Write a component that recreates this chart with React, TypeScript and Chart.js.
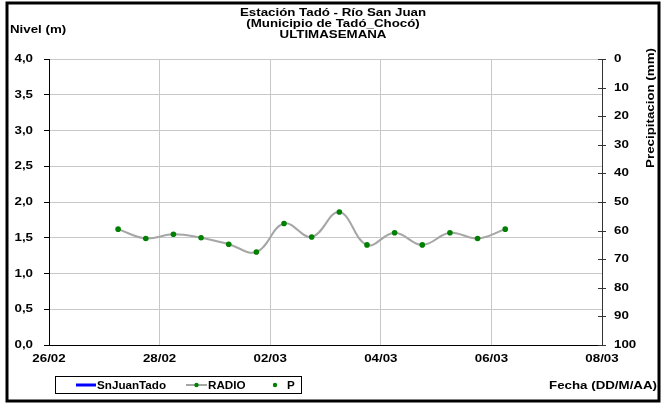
import React, { useEffect, useRef } from "react";
import { Chart, registerables } from "chart.js";

Chart.register(...registerables);

// ---- data ----
const titleLines = ["Estación Tadó - Río San Juan", "(Municipio de Tadó_Chocó)", "ULTIMASEMANA"];
const xTickDates = ["2025-02-26", "2025-02-28", "2025-03-02", "2025-03-04", "2025-03-06", "2025-03-08"];
const radioTimes = [
  "2025-02-27T06:00", "2025-02-27T18:00",
  "2025-02-28T06:00", "2025-02-28T18:00",
  "2025-03-01T06:00", "2025-03-01T18:00",
  "2025-03-02T06:00", "2025-03-02T18:00",
  "2025-03-03T06:00", "2025-03-03T18:00",
  "2025-03-04T06:00", "2025-03-04T18:00",
  "2025-03-05T06:00", "2025-03-05T18:00",
  "2025-03-06T06:00",
];
const radioValues = [1.62, 1.49, 1.55, 1.50, 1.41, 1.30, 1.70, 1.51, 1.86, 1.40, 1.57, 1.40, 1.57, 1.49, 1.62];
const snJuanValues: number[] = [];
const pValues: number[] = [];
const levelMin = 0, levelMax = 4, levelStep = 0.5;
const precMin = 0, precMax = 100, precStep = 10;

const toMs = (s: string) => Date.parse(s.length === 10 ? s + "T00:00:00Z" : s + ":00Z");
const FONT = "'Liberation Sans', Arial, Helvetica, sans-serif";
const pad2 = (n: number) => (n < 10 ? "0" + n : "" + n);
const fmtDate = (v: number) => {
  const d = new Date(v);
  return pad2(d.getUTCDate()) + "/" + pad2(d.getUTCMonth() + 1);
};
const fmtLevel = (v: number) => v.toFixed(1).replace(".", ",");

const SX = 1.21; // horizontal stretch of the original text

function txt(ctx: CanvasRenderingContext2D, s: string, x: number, y: number, align: CanvasTextAlign, sx = SX) {
  ctx.save();
  ctx.translate(x, y);
  ctx.scale(sx, 1);
  ctx.textAlign = align;
  ctx.textBaseline = "middle";
  ctx.fillText(s, 0, 0);
  ctx.restore();
}

const decorPlugin = {
  id: "decor",
  afterDraw(chart: any) {
    const ctx = chart.ctx as CanvasRenderingContext2D;
    const area = chart.chartArea;
    const { x, y, y2 } = chart.scales;
    ctx.save();
    // crossing ticks on right axis
    ctx.strokeStyle = "#333";
    ctx.lineWidth = 1;
    y2.ticks.forEach((t: any) => {
      const py = Math.round(y2.getPixelForValue(t.value)) + 0.5;
      ctx.beginPath();
      ctx.moveTo(area.right - 4, py);
      ctx.lineTo(area.right + 4, py);
      ctx.stroke();
    });
    // outer border
    ctx.strokeStyle = "#000";
    ctx.lineWidth = 3;
    ctx.strokeRect(7, 3, 652, 398);

    ctx.fillStyle = "#000";
    ctx.font = "bold 11px " + FONT;
    // tick labels
    y.ticks.forEach((t: any) => txt(ctx, fmtLevel(t.value), area.left - 16, y.getPixelForValue(t.value), "right"));
    y2.ticks.forEach((t: any) => txt(ctx, String(t.value), area.right + 12, y2.getPixelForValue(t.value), "left"));
    x.ticks.forEach((t: any) => txt(ctx, fmtDate(t.value), x.getPixelForValue(t.value), area.bottom + 14, "center"));

    // titles
    titleLines.forEach((l, i) => txt(ctx, l, 333, 13 + i * 11, "center"));
    txt(ctx, "Nivel (m)", 10, 30, "left");
    txt(ctx, "Fecha (DD/M/AA)", 657, 386, "right");
    ctx.save();
    ctx.translate(651, 108);
    ctx.rotate(-Math.PI / 2);
    txt(ctx, "Precipitacion (mm)", 0, 0, "center");
    ctx.restore();

    // legend
    ctx.lineWidth = 1;
    ctx.strokeStyle = "#000";
    ctx.strokeRect(55.5, 376.5, 246, 17);
    const ly = 385;
    ctx.strokeStyle = "#0000ff";
    ctx.lineWidth = 3;
    ctx.beginPath(); ctx.moveTo(76, ly); ctx.lineTo(96, ly); ctx.stroke();
    ctx.strokeStyle = "#a6a6a6";
    ctx.lineWidth = 2;
    ctx.beginPath(); ctx.moveTo(186, ly); ctx.lineTo(207, ly); ctx.stroke();
    ctx.fillStyle = "#008000";
    ctx.beginPath(); ctx.arc(196.5, ly, 2.2, 0, Math.PI * 2); ctx.fill();
    ctx.beginPath(); ctx.arc(275, ly, 2.2, 0, Math.PI * 2); ctx.fill();
    ctx.fillStyle = "#000";
    const ds = chart.data.datasets;
    txt(ctx, ds[0].label, 97, ly + 0.5, "left", 1.06);
    txt(ctx, ds[1].label, 208, ly + 0.5, "left", 1.06);
    txt(ctx, ds[2].label, 287, ly + 0.5, "left", 1.06);
    ctx.restore();
  },
};

export default function App() {
  const ref = useRef<HTMLCanvasElement>(null);
  useEffect(() => {
    if (!ref.current) return;
    const tickVals = xTickDates.map(toMs);
    const chart = new Chart(ref.current, {
      type: "line",
      data: {
        datasets: [
          {
            label: "SnJuanTado",
            data: snJuanValues.map((v, i) => ({ x: toMs(radioTimes[i]), y: v })),
            borderColor: "#0000ff",
            borderWidth: 3,
            pointRadius: 0,
            yAxisID: "y",
          },
          {
            label: "RADIO",
            data: radioValues.map((v, i) => ({ x: toMs(radioTimes[i]), y: v })),
            borderColor: "#a6a6a6",
            borderWidth: 2,
            tension: 0.4,
            pointRadius: 2.8,
            pointBorderWidth: 0,
            pointBackgroundColor: "#008000",
            pointHoverRadius: 2.8,
            yAxisID: "y",
          },
          {
            label: "P",
            data: pValues.map((v, i) => ({ x: toMs(radioTimes[i]), y: v })),
            showLine: false,
            pointRadius: 2,
            pointBackgroundColor: "#008000",
            yAxisID: "y2",
          },
        ],
      },
      options: {
        animation: false,
        responsive: false,
        events: [],
        layout: { padding: { top: 59, left: 0, right: 0, bottom: 0 } },
        plugins: { legend: { display: false }, title: { display: false }, tooltip: { enabled: false } },
        scales: {
          x: {
            type: "linear",
            min: tickVals[0],
            max: tickVals[tickVals.length - 1],
            afterBuildTicks: (axis: any) => {
              axis.ticks = tickVals.map((v) => ({ value: v }));
            },
            afterFit: (axis: any) => {
              axis.height = 60;
            },
            grid: { color: "#c8c8c8", drawTicks: false },
            border: { color: "#000", width: 1 },
            ticks: { display: false, autoSkip: false },
          },
          y: {
            type: "linear",
            position: "left",
            min: levelMin,
            max: levelMax,
            afterFit: (axis: any) => {
              axis.width = 49;
            },
            grid: { color: "#c8c8c8", tickColor: "#000", tickLength: 5 },
            border: { color: "#000", width: 1 },
            ticks: { stepSize: levelStep, display: false },
          },
          y2: {
            type: "linear",
            position: "right",
            min: precMin,
            max: precMax,
            reverse: true,
            afterFit: (axis: any) => {
              axis.width = 59;
            },
            grid: { drawOnChartArea: false, drawTicks: false },
            border: { color: "#333", width: 1 },
            ticks: { stepSize: precStep, display: false },
          },
        },
      },
      plugins: [decorPlugin],
    });
    return () => chart.destroy();
  }, []);
  return (
    <div style={{ position: "absolute", left: 0, top: 0, width: 661, height: 405, background: "#fff" }}>
      <canvas ref={ref} width={661} height={405} />
    </div>
  );
}
